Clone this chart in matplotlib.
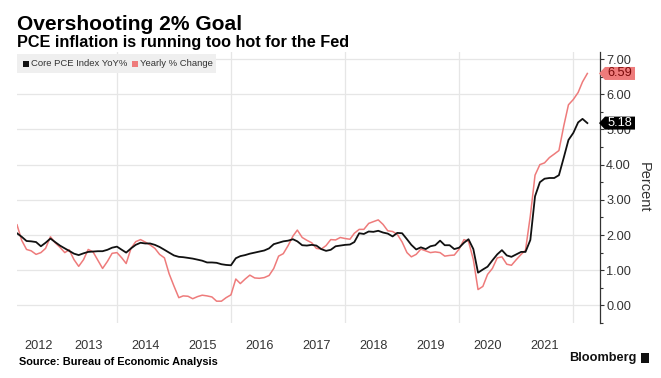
import matplotlib
matplotlib.use('Agg')
import matplotlib.pyplot as plt
import matplotlib.transforms as mtransforms
from matplotlib.patches import Polygon, Rectangle
import pandas as pd

plt.rcParams['font.family'] = ['Liberation Sans', 'DejaVu Sans']

# ---------------- data ----------------
start_month = '2012-03'
end_month = '2022-03'

core_pce_yoy = [
    2.05, 1.95, 1.83, 1.82, 1.80, 1.68, 1.78, 1.90, 1.80, 1.70,
    1.62, 1.55, 1.47, 1.43, 1.48, 1.52, 1.53, 1.54, 1.54, 1.58,
    1.64, 1.67, 1.58, 1.50, 1.62, 1.72, 1.78, 1.76, 1.76, 1.72,
    1.66, 1.58, 1.50, 1.42, 1.38, 1.37, 1.35, 1.33, 1.30, 1.27,
    1.22, 1.22, 1.21, 1.17, 1.15, 1.14, 1.34, 1.40, 1.43, 1.47,
    1.50, 1.53, 1.56, 1.62, 1.74, 1.78, 1.82, 1.84, 1.88, 1.82,
    1.71, 1.70, 1.72, 1.70, 1.60, 1.55, 1.58, 1.68, 1.70, 1.72,
    1.73, 1.80, 2.05, 2.03, 2.10, 2.09, 2.12, 2.07, 2.04, 1.96,
    2.06, 2.05, 1.88, 1.72, 1.59, 1.65, 1.60, 1.68, 1.71, 1.84,
    1.71, 1.71, 1.60, 1.64, 1.78, 1.88, 1.60, 0.93, 1.02, 1.10,
    1.28, 1.45, 1.57, 1.42, 1.38, 1.45, 1.52, 1.52, 1.86, 3.10,
    3.50, 3.60, 3.62, 3.62, 3.70, 4.20, 4.70, 4.90, 5.20, 5.30,
    5.18,
]

headline_pce_yoy = [
    2.29, 1.85, 1.59, 1.55, 1.45, 1.50, 1.62, 1.95, 1.78, 1.65,
    1.50, 1.58, 1.30, 1.11, 1.30, 1.59, 1.52, 1.28, 1.05, 1.25,
    1.48, 1.50, 1.35, 1.19, 1.62, 1.81, 1.87, 1.80, 1.72, 1.62,
    1.45, 1.35, 0.90, 0.55, 0.22, 0.27, 0.26, 0.19, 0.25, 0.29,
    0.27, 0.24, 0.12, 0.12, 0.22, 0.30, 0.75, 0.62, 0.75, 0.86,
    0.78, 0.77, 0.79, 0.85, 1.05, 1.40, 1.47, 1.70, 1.97, 2.14,
    1.93, 1.85, 1.78, 1.62, 1.60, 1.70, 1.87, 1.86, 1.93, 1.90,
    1.88, 2.05, 2.16, 2.16, 2.33, 2.38, 2.43, 2.30, 2.12, 2.10,
    2.02, 1.80, 1.50, 1.38, 1.45, 1.60, 1.55, 1.50, 1.52, 1.50,
    1.40, 1.42, 1.43, 1.60, 1.87, 1.82, 1.30, 0.45, 0.54, 0.88,
    1.05, 1.35, 1.38, 1.17, 1.14, 1.30, 1.45, 1.57, 2.55, 3.70,
    4.00, 4.05, 4.20, 4.30, 4.40, 5.10, 5.70, 5.85, 6.05, 6.35,
    6.59,
]

year_labels = [2012, 2013, 2014, 2015, 2016, 2017, 2018, 2019, 2020, 2021]
grid_years = [2014, 2016, 2018, 2020, 2022]
y_ticks = [0, 1, 2, 3, 4, 5, 6, 7]

series_names = ['Core PCE Index YoY%', 'Yearly % Change']
core_color = '#111111'
head_color = '#ee7b7b'

# ---------------- figure ----------------
W, H = 661, 378
fig = plt.figure(figsize=(W / 100, H / 100), dpi=100)
fig.patch.set_facecolor('white')

def fx(px):
    return px / W

def fy(py):
    return 1 - py / H

ax = fig.add_axes([fx(17), fy(323), fx(600) - fx(17), fy(52) - fy(323)])

dates = pd.period_range(start_month, end_month, freq='M').to_timestamp(how='end')

ax.plot(dates, headline_pce_yoy, color=head_color, lw=1.1, zorder=3)
ax.plot(dates, core_pce_yoy, color=core_color, lw=1.3, zorder=4)

x_left = dates[0]
x_right = pd.Timestamp('2022-06-21')
ax.set_xlim(x_left, x_right)
ax.set_ylim(-0.5, 7.2)

# x labels at mid-year (first one centred in visible part)
tick_pos = []
for y in year_labels:
    y0 = max(pd.Timestamp(f'{y}-01-01'), x_left)
    y1 = pd.Timestamp(f'{y + 1}-01-01')
    tick_pos.append(y0 + (y1 - y0) / 2)
ax.set_xticks(tick_pos)
ax.set_xticklabels([str(y) for y in year_labels])
ax.tick_params(axis='x', length=0, pad=12, labelsize=9.2, labelcolor='#333333')

for gy in grid_years:
    ax.axvline(pd.Timestamp(f'{gy}-01-01'), color='#e6e6e6', lw=0.9, zorder=1)
for t in y_ticks:
    ax.axhline(t, color='#e6e6e6', lw=0.9, zorder=1)

ax.yaxis.tick_right()
ax.yaxis.set_label_position('right')
ax.set_yticks(y_ticks)
ax.set_yticklabels([f'{t:.2f}' for t in y_ticks])
ax.set_yticks([t + 0.5 for t in y_ticks[:-1]] + [-0.5], minor=True)
ax.tick_params(axis='y', which='major', direction='out', length=3, width=0.8,
               color='#333333', pad=1.5, labelsize=9.2, labelcolor='#333333')
ax.tick_params(axis='y', which='minor', direction='out', length=2, width=0.8,
               color='#333333')

for s in ['left', 'top', 'bottom']:
    ax.spines[s].set_visible(False)
ax.spines['right'].set_color('#333333')
ax.spines['right'].set_linewidth(0.9)

ax.set_ylabel('Percent', rotation=270, fontsize=10.5, color='#333333', labelpad=14)

# value tags at right spine
blend = mtransforms.blended_transform_factory(ax.transAxes, ax.transData)
tag_specs = [
    (headline_pce_yoy[-1], head_color, '#7a0a0a'),
    (core_pce_yoy[-1], '#000000', '#ffffff'),
]
for val, fc, tc in tag_specs:
    anchor = mtransforms.ScaledTranslation(1.0, val, blend)
    tr = mtransforms.Affine2D() + anchor
    hh = 6.5
    verts = [(-1, 0), (5, hh), (35, hh), (35, -hh), (5, -hh)]
    poly = Polygon(verts, closed=True, transform=tr, facecolor=fc,
                   edgecolor='none', clip_on=False, zorder=10)
    ax.add_patch(poly)
    txt_tr = mtransforms.Affine2D().translate(20, 0) + anchor
    ax.text(0, 0, f'{val:.2f}', transform=txt_tr, ha='center', va='center',
            fontsize=9.2, color=tc, zorder=11, clip_on=False)

# legend box (top-left)
fig.add_artist(Rectangle((fx(17), fy(73)), fx(216) - fx(17), fy(54) - fy(73),
                         transform=fig.transFigure, facecolor='#efefef',
                         edgecolor='none', zorder=5))
fig.add_artist(Rectangle((fx(23), fy(67)), fx(29) - fx(23), fy(61) - fy(67),
                         transform=fig.transFigure, facecolor=core_color,
                         edgecolor='none', zorder=6))
fig.text(fx(31), fy(64), series_names[0], fontsize=6.8, color='#333333',
         va='center', ha='left', zorder=7)
fig.add_artist(Rectangle((fx(132), fy(67)), fx(138) - fx(132), fy(61) - fy(67),
                         transform=fig.transFigure, facecolor=head_color,
                         edgecolor='none', zorder=6))
fig.text(fx(140), fy(64), series_names[1], fontsize=6.8, color='#333333',
         va='center', ha='left', zorder=7)

# titles
fig.text(fx(17), fy(30), 'Overshooting 2% Goal', fontsize=15.1,
         fontweight='bold', color='#000000', va='baseline', ha='left')
fig.text(fx(17), fy(47), 'PCE inflation is running too hot for the Fed',
         fontsize=11.7, fontweight='bold', color='#000000', va='baseline', ha='left')

# footer
fig.text(fx(19), fy(362), 'Source: Bureau of Economic Analysis', fontsize=7.9,
         fontweight='bold', color='#000000', va='center', ha='left')
fig.text(fx(636), fy(358), 'Bloomberg', fontsize=9.2, fontweight='bold',
         color='#111111', va='center', ha='right')
fig.add_artist(Rectangle((fx(641), fy(363)), fx(649) - fx(641), fy(353) - fy(363),
                         transform=fig.transFigure, facecolor='#111111',
                         edgecolor='none'))

fig.savefig('out.png', dpi=100, facecolor='white')
